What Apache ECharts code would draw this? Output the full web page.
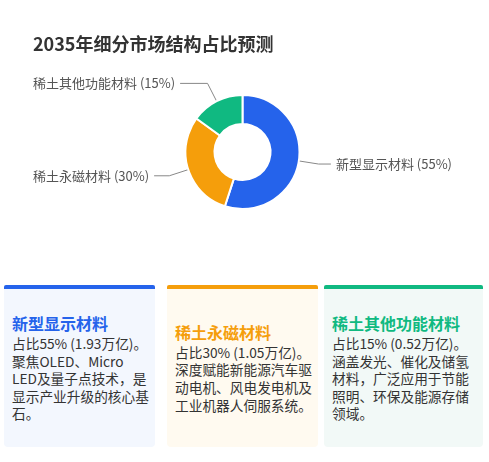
<!DOCTYPE html>
<html>
<head>
<meta charset="utf-8">
<script src="https://cdn.jsdelivr.net/npm/echarts@6/dist/echarts.min.js"></script>
<style>
  body { margin: 0; background: #fff; font-family: "Noto Sans CJK SC", "Noto Sans", sans-serif; }
  #page { position: relative; width: 489px; height: 462px; overflow: hidden; }
  #chart { position: absolute; left: 0; top: 0; width: 485px; height: 275px; }
  .card {
    position: absolute; top: 285px; height: 158px;
    border-top: 4px solid; border-radius: 2px 2px 4px 4px;
    box-sizing: content-box; padding: 0 5px 0 8px;
    display: flex; flex-direction: column; justify-content: center;
  }
  .card h3 { margin: 0 0 2px 0; font-size: 16px; font-weight: bold; line-height: 20px; }
  .card p { margin: 0; font-size: 13.7px; line-height: 17.6px; color: #333; }
</style>
</head>
<body>
<div id="page">
  <div id="chart"></div>
  <div id="cards"></div>
</div>
<script>
var title = '2035年细分市场结构占比预测';
var categories = ['新型显示材料', '稀土永磁材料', '稀土其他功能材料'];
var shares = [55, 30, 15];
var amounts = ['1.93', '1.05', '0.52'];
var notes = [
    '聚焦OLED、Micro LED及量子点技术，是显示产业升级的核心基石。',
    '深度赋能新能源汽车驱动电机、风电发电机及工业机器人伺服系统。',
    '涵盖发光、催化及储氢材料，广泛应用于节能照明、环保及能源存储领域。'
];

var colors = ['#2563eb', '#f59e0b', '#10b981'];
var cardBg = ['#f3f7fe', '#fffaf0', '#f2f9f7'];
// 卡片位置
var cardLeft = [4, 167, 324];
var cardWidth = [138, 138, 146];

var chart = echarts.init(document.getElementById('chart'));
chart.setOption({
    title: {
        text: title,
        left: 33,
        top: 35,
        padding: 0,
        textStyle: {
            fontSize: 18,
            fontWeight: 'bold',
            color: '#333',
            fontFamily: 'Noto Sans CJK SC'
        }
    },
    color: colors,
    series: [{
        type: 'pie',
        center: ['50%', 152],
        radius: [28, 57],
        startAngle: 90,
        itemStyle: {
            borderColor: '#fff',
            borderWidth: 2
        },
        label: {
            formatter: '{b} ({d}%)',
            fontSize: 13,
            color: '#555',
            fontFamily: 'Noto Sans CJK SC',
            alignTo: 'edge',
            edgeDistance: 33
        },
        labelLine: {
            length: 20,
            length2: 10,
            lineStyle: { color: '#888', width: 1 }
        },
        data: categories.map(function(name, i) {
            return { name: name, value: shares[i] };
        })
    }]
});

// 卡片
var html = '';
categories.forEach(function(name, i) {
    html += '<div class="card" style="left:' + cardLeft[i] + 'px;width:' + cardWidth[i] +
        'px;background:' + cardBg[i] + ';border-top-color:' + colors[i] + '">' +
        '<h3 style="color:' + colors[i] + '">' + name + '</h3>' +
        '<p>占比' + shares[i] + '% (' + amounts[i] + '万亿)。<br>' + notes[i] + '</p></div>';
});
document.getElementById('cards').innerHTML = html;
</script>
</body>
</html>
